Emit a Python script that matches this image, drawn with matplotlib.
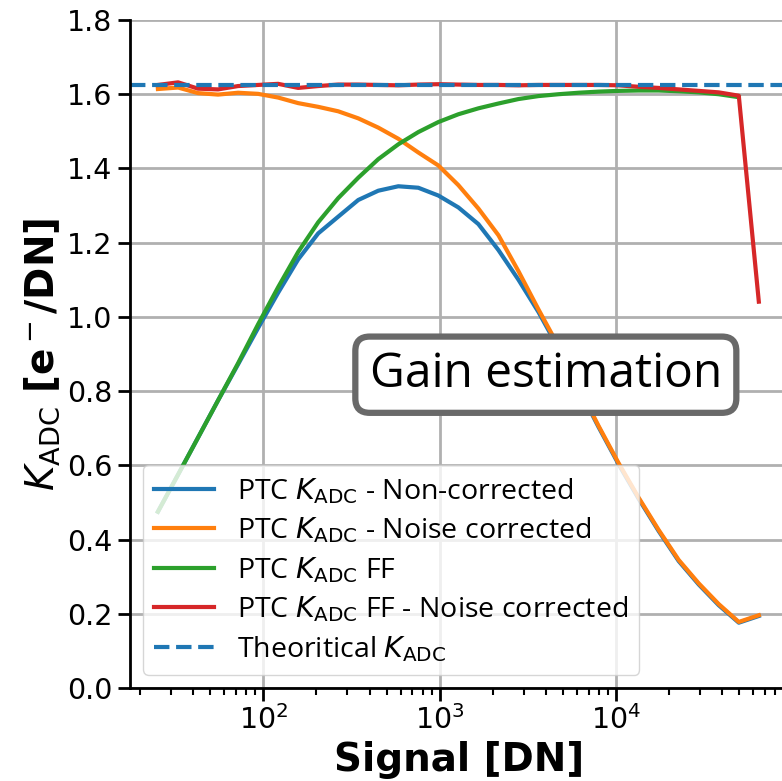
import matplotlib
matplotlib.use("Agg")
import matplotlib.pyplot as plt
import numpy as np

# signal levels [DN]
signal = [25.2, 32.8, 42.6, 55.3, 71.8, 93.3, 121.2, 157.5, 204.6, 265.7,
          345.3, 448.5, 582.6, 756.8, 983.3, 1277, 1659, 2156, 2801, 3638,
          4726, 6140, 7978, 10360, 13460, 17480, 22720, 29510, 38340, 49820,
          64720]

k_noncorr = [0.475, 0.575, 0.675, 0.775, 0.872, 0.970, 1.065, 1.155, 1.225, 1.270,
             1.315, 1.340, 1.352, 1.348, 1.327, 1.295, 1.250, 1.180, 1.100, 1.013,
             0.915, 0.808, 0.703, 0.603, 0.510, 0.423, 0.342, 0.279, 0.223, 0.176,
             0.194]

k_noisecorr = [1.614, 1.618, 1.603, 1.599, 1.604, 1.601, 1.591, 1.576, 1.566, 1.554,
               1.535, 1.510, 1.480, 1.443, 1.408, 1.355, 1.292, 1.220, 1.123, 1.020,
               0.921, 0.812, 0.706, 0.606, 0.513, 0.426, 0.345, 0.282, 0.226, 0.178,
               0.196]

k_ff = [0.475, 0.575, 0.675, 0.775, 0.875, 0.980, 1.080, 1.175, 1.255, 1.320,
        1.375, 1.425, 1.465, 1.498, 1.525, 1.546, 1.562, 1.575, 1.587, 1.595,
        1.600, 1.604, 1.607, 1.609, 1.610, 1.610, 1.608, 1.605, 1.600, 1.592]

k_ff_noisecorr = [1.625, 1.632, 1.615, 1.613, 1.622, 1.625, 1.628, 1.617, 1.622, 1.626,
                  1.626, 1.625, 1.624, 1.626, 1.627, 1.626, 1.625, 1.625, 1.624, 1.625,
                  1.625, 1.625, 1.625, 1.624, 1.620, 1.617, 1.613, 1.609, 1.605, 1.596,
                  1.041]

k_theory = 1.625

legend_font = "Open Sans"

fig = plt.figure(figsize=(7.82, 7.81), dpi=100)
ax = fig.add_axes([130/782, 93/781, 659/782, 668/781])

ax.plot(signal, k_noncorr, color="tab:blue", lw=3, label=r"PTC $K_{\mathrm{ADC}}$ - Non-corrected")
ax.plot(signal, k_noisecorr, color="tab:orange", lw=3, label=r"PTC $K_{\mathrm{ADC}}$ - Noise corrected")
ax.plot(signal[:len(k_ff)], k_ff, color="tab:green", lw=3, label=r"PTC $K_{\mathrm{ADC}}$ FF")
ax.plot(signal, k_ff_noisecorr, color="tab:red", lw=3, label=r"PTC $K_{\mathrm{ADC}}$ FF - Noise corrected")
ax.axhline(k_theory, color="tab:blue", ls="--", lw=3, label=r"Theoritical $K_{\mathrm{ADC}}$")

ax.set_xscale("log")
ax.set_xlim(17.5, 96000)
ax.set_ylim(0, 1.8)
ax.set_yticks(np.arange(0, 1.81, 0.2))
ax.grid(True, which="major", color="#b0b0b0", lw=2)
ax.spines["top"].set_visible(False)
ax.spines["right"].set_visible(False)
ax.spines["left"].set_linewidth(2)
ax.spines["bottom"].set_linewidth(2)
ax.tick_params(which="major", labelsize=20.5, length=9, width=2)
ax.tick_params(which="minor", length=5, width=1.5)

ax.set_xlabel("Signal [DN]", fontsize=28, fontweight="bold")
ax.set_ylabel(r"$K_{\mathrm{ADC}}$ [e$^-$/DN]", fontsize=28, fontweight="bold")

leg = ax.legend(loc="lower left", prop={"family": legend_font, "size": 20.5},
                labelspacing=0.34, handlelength=2.1, borderaxespad=0.45)

ax.text(0.631, 0.469, "Gain estimation", transform=ax.transAxes, ha="center", va="center",
        fontsize=34.5, family=legend_font,
        bbox=dict(boxstyle="round,pad=0.3", facecolor="white", edgecolor="dimgray", lw=4.5))

fig.savefig("out.png", dpi=100)
